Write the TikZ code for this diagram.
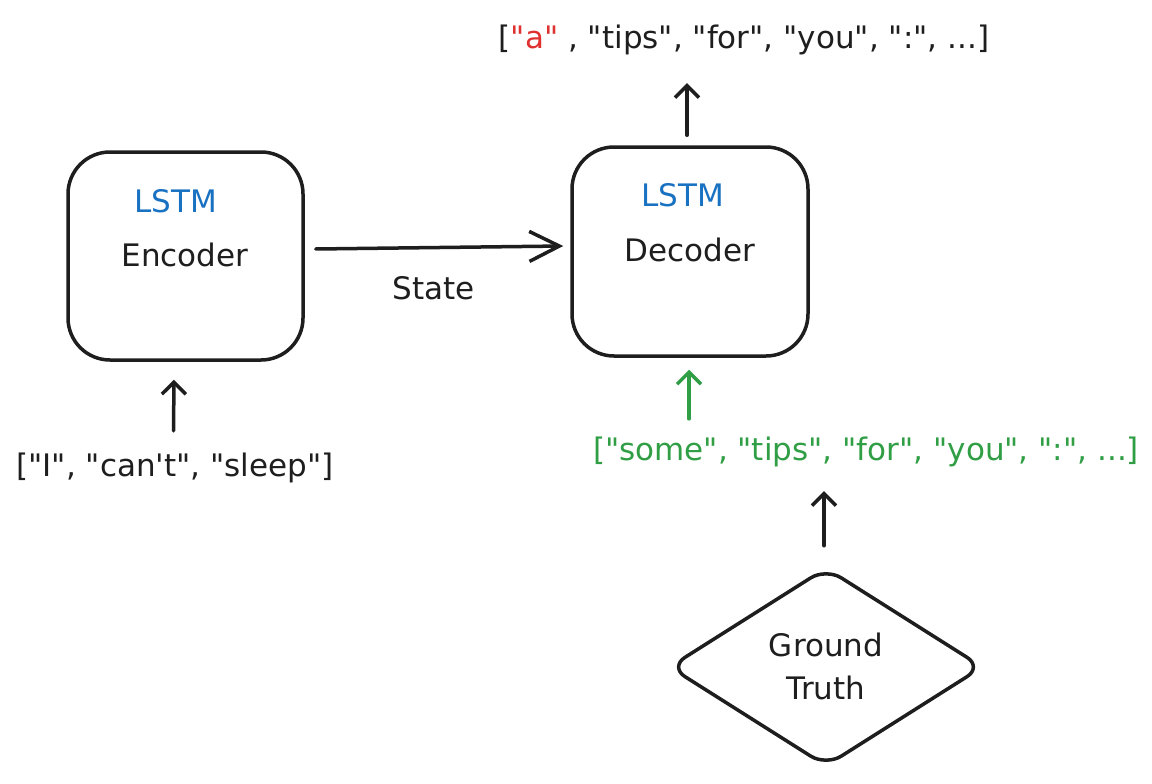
\documentclass[tikz,border=0pt]{standalone}
\usepackage{fontspec}
\newfontfamily\hand{DejaVu Sans}
\usetikzlibrary{arrows.meta,shapes.geometric}
\definecolor{ink}{HTML}{1E1E1E}
\definecolor{xblue}{HTML}{1971C2}
\definecolor{xgreen}{HTML}{2F9E44}
\definecolor{xred}{HTML}{E03131}
\tikzset{
  txt/.style={font=\hand\fontsize{31}{36}\selectfont, inner sep=0pt, text=ink},
  box/.style={draw=ink, line width=3.5pt, rounded corners=42pt, minimum width=235pt, minimum height=208pt, inner sep=0pt},
  arr/.style={draw=ink, line width=3.5pt, line cap=round, -{Straight Barb[length=12pt,width=24pt,line width=3.5pt]}},
  bigarr/.style={arr, -{Straight Barb[length=30pt,width=30pt,line width=3.5pt]}},
}
\begin{document}
\begin{tikzpicture}[x=1pt,y=-1pt]
\useasboundingbox[fill=white] (0,0) rectangle (1152,784);
% boxes
\node[box] (enc) at (185.5,256) {};
\node[box, minimum width=236pt, minimum height=209pt] (dec) at (690,251.5) {};
\node[txt, text=xblue] (encl) at (176,201) {LSTM};
\node[txt] (enct) at (185,255) {Encoder};
\node[txt, text=xblue] (decl) at (683,195) {LSTM};
\node[txt] (dect) at (690,250) {Decoder};
% diamond
\node[draw=ink, line width=3.5pt, shape=diamond, aspect=1.59, rounded corners=18pt,
      minimum width=314pt, minimum height=199pt, inner sep=0pt] (gt) at (826,667) {};
\node[txt] (gt1) at (826,645) {Ground};
\node[txt] (gt2) at (826,688) {Truth};
% texts
\node[txt] (state) at (434,288) {State};
\node[txt] (inp) at (175,468) {["I", "can\textquotesingle t", "sleep"]};
\node[txt, text=xgreen] (tf) at (866,452) {["some", "tips", "for", "you", ":", ...]};
\node[txt] (out) at (744,40) {[\textcolor{xred}{"a"} , "tips", "for", "you", ":", ...]};
% arrows
\draw[bigarr] ([xshift=11pt,yshift=7pt]enc.east) -- ([xshift=-7pt,yshift=5.5pt]dec.west);
\draw[arr] ([xshift=-1.5pt,yshift=22pt]inp.north) -- ([xshift=-11.5pt,yshift=-18pt]enc.south);
\draw[arr, draw=xgreen] ([xshift=-1pt,yshift=18pt]tf.north -| dec.south) -- ([xshift=-1pt,yshift=-12pt]dec.south);
\draw[arr] ([xshift=-2pt,yshift=20pt]gt.north) -- ([xshift=-42pt,yshift=-24pt]tf.south);
\draw[arr] ([xshift=-3pt,yshift=10pt]dec.north) -- ([xshift=-57pt,yshift=-28pt]out.south);
\end{tikzpicture}
\end{document}
